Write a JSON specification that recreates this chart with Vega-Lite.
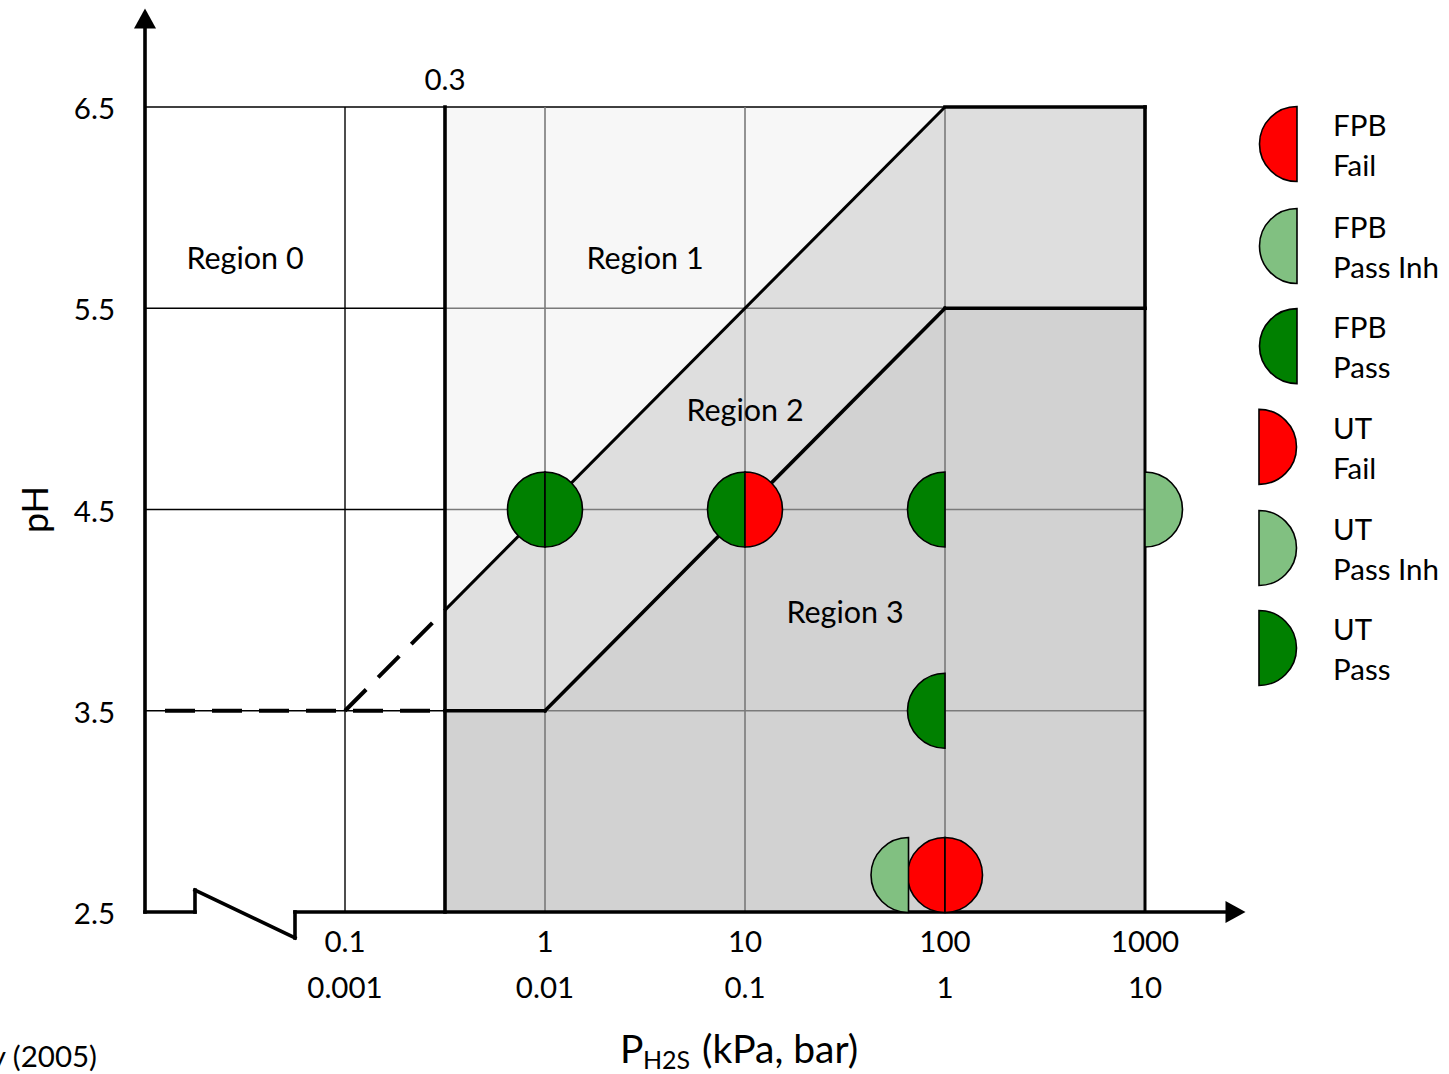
{
  "$schema": "https://vega.github.io/schema/vega-lite/v6.json",
  "width": 1449,
  "height": 1074,
  "autosize": "none",
  "padding": 0,
  "background": "white",
  "config": {"view": {"stroke": null}, "font": "Lato"},
  "datasets": {
    "regions": [
      {"region": "Region 1", "p": 0.3162, "ph": 4.0, "ph2": 6.5},
      {"region": "Region 1", "p": 100, "ph": 6.5, "ph2": 6.5},
      {"region": "Region 2", "p": 0.3162, "ph": 3.5, "ph2": 4.0},
      {"region": "Region 2", "p": 1, "ph": 3.5, "ph2": 4.5},
      {"region": "Region 2", "p": 100, "ph": 5.5, "ph2": 6.5},
      {"region": "Region 2", "p": 1000, "ph": 5.5, "ph2": 6.5},
      {"region": "Region 3", "p": 0.3162, "ph": 2.5, "ph2": 3.5},
      {"region": "Region 3", "p": 1, "ph": 2.5, "ph2": 3.5},
      {"region": "Region 3", "p": 100, "ph": 2.5, "ph2": 5.5},
      {"region": "Region 3", "p": 1000, "ph": 2.5, "ph2": 5.5}
    ],
    "grid_dark": [
      {"p": 0.1, "ph": 2.5, "p2": 0.1, "ph2": 6.5},
      {"p": 0.01, "ph": 6.5, "p2": 100, "ph2": 6.5},
      {"p": 0.01, "ph": 5.5, "p2": 0.3162, "ph2": 5.5},
      {"p": 0.01, "ph": 4.5, "p2": 0.3162, "ph2": 4.5},
      {"p": 0.01, "ph": 3.5, "p2": 0.3162, "ph2": 3.5}
    ],
    "grid_gray": [
      {"p": 1, "ph": 2.5, "p2": 1, "ph2": 6.5},
      {"p": 10, "ph": 2.5, "p2": 10, "ph2": 6.5},
      {"p": 100, "ph": 2.5, "p2": 100, "ph2": 6.5},
      {"p": 0.3162, "ph": 5.5, "p2": 100, "ph2": 5.5},
      {"p": 0.3162, "ph": 4.5, "p2": 1000, "ph2": 4.5},
      {"p": 1, "ph": 3.5, "p2": 1000, "ph2": 3.5}
    ],
    "dashed": [
      {"p": 0.01259, "ph": 3.5, "p2": 0.3162, "ph2": 3.5},
      {"p": 0.1, "ph": 3.5, "p2": 0.3162, "ph2": 4.0}
    ],
    "bound_thin": [
      {"p": 0.3162, "ph": 4.0, "p2": 100, "ph2": 6.5},
      {"p": 1000, "ph": 2.5, "p2": 1000, "ph2": 5.5}
    ],
    "bound_thick": [
      {"p": 0.3162, "ph": 2.5, "p2": 0.3162, "ph2": 6.5},
      {"p": 0.3162, "ph": 3.5, "p2": 1, "ph2": 3.5},
      {"p": 1, "ph": 3.5, "p2": 100, "ph2": 5.5},
      {"p": 100, "ph": 5.5, "p2": 1000, "ph2": 5.5},
      {"p": 100, "ph": 6.5, "p2": 1000, "ph2": 6.5},
      {"p": 1000, "ph": 5.5, "p2": 1000, "ph2": 6.5}
    ],
    "axis_lines": [
      {"p": 0.01, "ph": 2.5, "p2": 0.01, "ph2": 6.92},
      {"p": 0.01, "ph": 2.5, "p2": 0.01778, "ph2": 2.5},
      {"p": 0.01778, "ph": 2.5, "p2": 0.01778, "ph2": 2.609},
      {"p": 0.01778, "ph": 2.609, "p2": 0.05623, "ph2": 2.371},
      {"p": 0.05623, "ph": 2.371, "p2": 0.05623, "ph2": 2.5},
      {"p": 0.05623, "ph": 2.5, "p2": 2661, "ph2": 2.5}
    ],
    "arrow_up": [{"p": 0.01, "ph": 6.94}],
    "arrow_right": [{"p": 2835, "ph": 2.5}],
    "tests": [
      {"method": "FPB", "result": "Pass", "p": 1, "ph": 4.5},
      {"method": "FPB", "result": "Pass", "p": 10, "ph": 4.5},
      {"method": "FPB", "result": "Pass", "p": 100, "ph": 4.5},
      {"method": "FPB", "result": "Pass", "p": 100, "ph": 3.5},
      {"method": "FPB", "result": "Fail", "p": 100, "ph": 2.684},
      {"method": "FPB", "result": "Pass Inh", "p": 65.7, "ph": 2.684},
      {"method": "UT", "result": "Pass", "p": 1, "ph": 4.5},
      {"method": "UT", "result": "Fail", "p": 10, "ph": 4.5},
      {"method": "UT", "result": "Pass Inh", "p": 1000, "ph": 4.5},
      {"method": "UT", "result": "Fail", "p": 100, "ph": 2.684}
    ],
    "legend_points": [
      {"method": "FPB", "result": "Fail", "p": 5754, "ph": 6.316},
      {"method": "FPB", "result": "Pass Inh", "p": 5754, "ph": 5.809},
      {"method": "FPB", "result": "Pass", "p": 5754, "ph": 5.312},
      {"method": "UT", "result": "Fail", "p": 3715, "ph": 4.811},
      {"method": "UT", "result": "Pass Inh", "p": 3715, "ph": 4.309},
      {"method": "UT", "result": "Pass", "p": 3715, "ph": 3.812}
    ],
    "legend_labels": [
      {"label": "FPB\nFail", "p": 8710, "ph": 6.41},
      {"label": "FPB\nPass Inh", "p": 8710, "ph": 5.903},
      {"label": "FPB\nPass", "p": 8710, "ph": 5.406},
      {"label": "UT\nFail", "p": 8710, "ph": 4.905},
      {"label": "UT\nPass Inh", "p": 8710, "ph": 4.403},
      {"label": "UT\nPass", "p": 8710, "ph": 3.906}
    ],
    "region_labels": [
      {"label": "Region 0", "p": 0.03162, "ph": 5.754},
      {"label": "Region 1", "p": 3.162, "ph": 5.754},
      {"label": "Region 2", "p": 10, "ph": 4.997},
      {"label": "Region 3", "p": 31.62, "ph": 3.998}
    ],
    "y_ticks": [
      {"label": "6.5", "p": 0.00708, "ph": 6.5},
      {"label": "5.5", "p": 0.00708, "ph": 5.5},
      {"label": "4.5", "p": 0.00708, "ph": 4.5},
      {"label": "3.5", "p": 0.00708, "ph": 3.5},
      {"label": "2.5", "p": 0.00708, "ph": 2.5}
    ],
    "x_ticks": [
      {"label": "0.1", "p": 0.1, "ph": 2.361},
      {"label": "1", "p": 1, "ph": 2.361},
      {"label": "10", "p": 10, "ph": 2.361},
      {"label": "100", "p": 100, "ph": 2.361},
      {"label": "1000", "p": 1000, "ph": 2.361},
      {"label": "0.001", "p": 0.1, "ph": 2.132},
      {"label": "0.01", "p": 1, "ph": 2.132},
      {"label": "0.1", "p": 10, "ph": 2.132},
      {"label": "1", "p": 100, "ph": 2.132},
      {"label": "10", "p": 1000, "ph": 2.132},
      {"label": "0.3", "p": 0.3162, "ph": 6.644}
    ],
    "x_title_main": [
      {"label": "P", "p": 2.371, "ph": 1.81},
      {"label": "(kPa, bar)", "p": 6.095, "ph": 1.81}
    ],
    "x_title_sub": [{"label": "H2S", "p": 3.09, "ph": 1.76}],
    "y_title": [{"label": "pH", "p": 0.002884, "ph": 4.5}],
    "source": [{"label": "y (2005)", "p": 0.005754, "ph": 1.789}]
  },
  "encoding": {
    "x": {"field": "p", "type": "quantitative", "scale": {"type": "log", "domain": [0.0018836, 33113], "nice": false}, "axis": null},
    "y": {"field": "ph", "type": "quantitative", "scale": {"domain": [1.69503, 7.03168], "zero": false, "nice": false}, "axis": null}
  },
  "layer": [
    {
      "data": {"name": "regions"},
      "mark": {"type": "area", "opacity": 1},
      "encoding": {
        "y": {"field": "ph", "type": "quantitative", "stack": null, "scale": {"domain": [1.69503, 7.03168], "zero": false, "nice": false}, "axis": null},
        "y2": {"field": "ph2"},
        "color": {"field": "region", "type": "nominal", "scale": {"domain": ["Region 1", "Region 2", "Region 3"], "range": ["#f7f7f7", "#dedede", "#d2d2d2"]}, "legend": null}
      }
    },
    {
      "data": {"name": "grid_dark"},
      "mark": {"type": "rule", "color": "#000000", "strokeWidth": 1.4},
      "encoding": {"x2": {"field": "p2"}, "y2": {"field": "ph2"}}
    },
    {
      "data": {"name": "grid_gray"},
      "mark": {"type": "rule", "color": "#7a7a7a", "strokeWidth": 1.6},
      "encoding": {"x2": {"field": "p2"}, "y2": {"field": "ph2"}}
    },
    {
      "data": {"name": "dashed"},
      "mark": {"type": "rule", "color": "#000000", "strokeWidth": 4, "strokeDash": [30, 17]},
      "encoding": {"x2": {"field": "p2"}, "y2": {"field": "ph2"}}
    },
    {
      "data": {"name": "bound_thin"},
      "mark": {"type": "rule", "color": "#000000", "strokeWidth": 3},
      "encoding": {"x2": {"field": "p2"}, "y2": {"field": "ph2"}}
    },
    {
      "data": {"name": "bound_thick"},
      "mark": {"type": "rule", "color": "#000000", "strokeWidth": 3.6, "strokeCap": "square"},
      "encoding": {"x2": {"field": "p2"}, "y2": {"field": "ph2"}}
    },
    {
      "data": {"name": "axis_lines"},
      "mark": {"type": "rule", "color": "#000000", "strokeWidth": 3.6, "strokeCap": "square"},
      "encoding": {"x2": {"field": "p2"}, "y2": {"field": "ph2"}}
    },
    {
      "data": {"name": "arrow_up"},
      "mark": {"type": "point", "shape": "M0,-1L1.1,1L-1.1,1Z", "size": 400, "filled": true, "color": "#000000", "opacity": 1}
    },
    {
      "data": {"name": "arrow_right"},
      "mark": {"type": "point", "shape": "M1,0L-1,1.1L-1,-1.1Z", "size": 400, "filled": true, "color": "#000000", "opacity": 1}
    },
    {
      "data": {"name": "tests"},
      "mark": {"type": "point", "size": 5625, "filled": true, "stroke": "#000000", "strokeWidth": 1.6, "opacity": 1},
      "encoding": {
        "shape": {"field": "method", "type": "nominal", "scale": {"domain": ["FPB", "UT"], "range": ["M0,-1A1,1,0,0,0,0,1Z", "M0,-1A1,1,0,0,1,0,1Z"]}, "legend": null},
        "fill": {"field": "result", "type": "nominal", "scale": {"domain": ["Fail", "Pass Inh", "Pass"], "range": ["#ff0000", "#81c081", "#008000"]}, "legend": null}
      }
    },
    {
      "data": {"name": "legend_points"},
      "mark": {"type": "point", "size": 5625, "filled": true, "stroke": "#000000", "strokeWidth": 1.6, "opacity": 1},
      "encoding": {
        "shape": {"field": "method", "type": "nominal", "scale": {"domain": ["FPB", "UT"], "range": ["M0,-1A1,1,0,0,0,0,1Z", "M0,-1A1,1,0,0,1,0,1Z"]}, "legend": null},
        "fill": {"field": "result", "type": "nominal", "scale": {"domain": ["Fail", "Pass Inh", "Pass"], "range": ["#ff0000", "#81c081", "#008000"]}, "legend": null}
      }
    },
    {
      "data": {"name": "legend_labels"},
      "mark": {"type": "text", "align": "left", "baseline": "middle", "dy": 2, "fontSize": 29.5, "lineBreak": "\n", "lineHeight": 40, "color": "#000000", "font": "Lato"},
      "encoding": {"text": {"field": "label"}}
    },
    {
      "data": {"name": "region_labels"},
      "mark": {"type": "text", "align": "center", "baseline": "middle", "dy": 3, "fontSize": 30.5, "color": "#000000", "font": "Lato"},
      "encoding": {"text": {"field": "label"}}
    },
    {
      "data": {"name": "y_ticks"},
      "mark": {"type": "text", "align": "right", "baseline": "middle", "dy": 3, "fontSize": 29.5, "color": "#000000", "font": "Lato"},
      "encoding": {"text": {"field": "label"}}
    },
    {
      "data": {"name": "x_ticks"},
      "mark": {"type": "text", "align": "center", "baseline": "middle", "dy": 3, "fontSize": 29.5, "color": "#000000", "font": "Lato"},
      "encoding": {"text": {"field": "label"}}
    },
    {
      "data": {"name": "x_title_main"},
      "mark": {"type": "text", "align": "left", "baseline": "middle", "fontSize": 39, "color": "#000000", "font": "Lato"},
      "encoding": {"text": {"field": "label"}}
    },
    {
      "data": {"name": "x_title_sub"},
      "mark": {"type": "text", "align": "left", "baseline": "middle", "fontSize": 25, "color": "#000000", "font": "Lato"},
      "encoding": {"text": {"field": "label"}}
    },
    {
      "data": {"name": "y_title"},
      "mark": {"type": "text", "align": "center", "baseline": "middle", "fontSize": 36, "angle": 270, "color": "#000000", "font": "Lato"},
      "encoding": {"text": {"field": "label"}}
    },
    {
      "data": {"name": "source"},
      "mark": {"type": "text", "align": "right", "baseline": "middle", "dy": 3, "fontSize": 29.5, "color": "#000000", "font": "Lato"},
      "encoding": {"text": {"field": "label"}}
    }
  ]
}
